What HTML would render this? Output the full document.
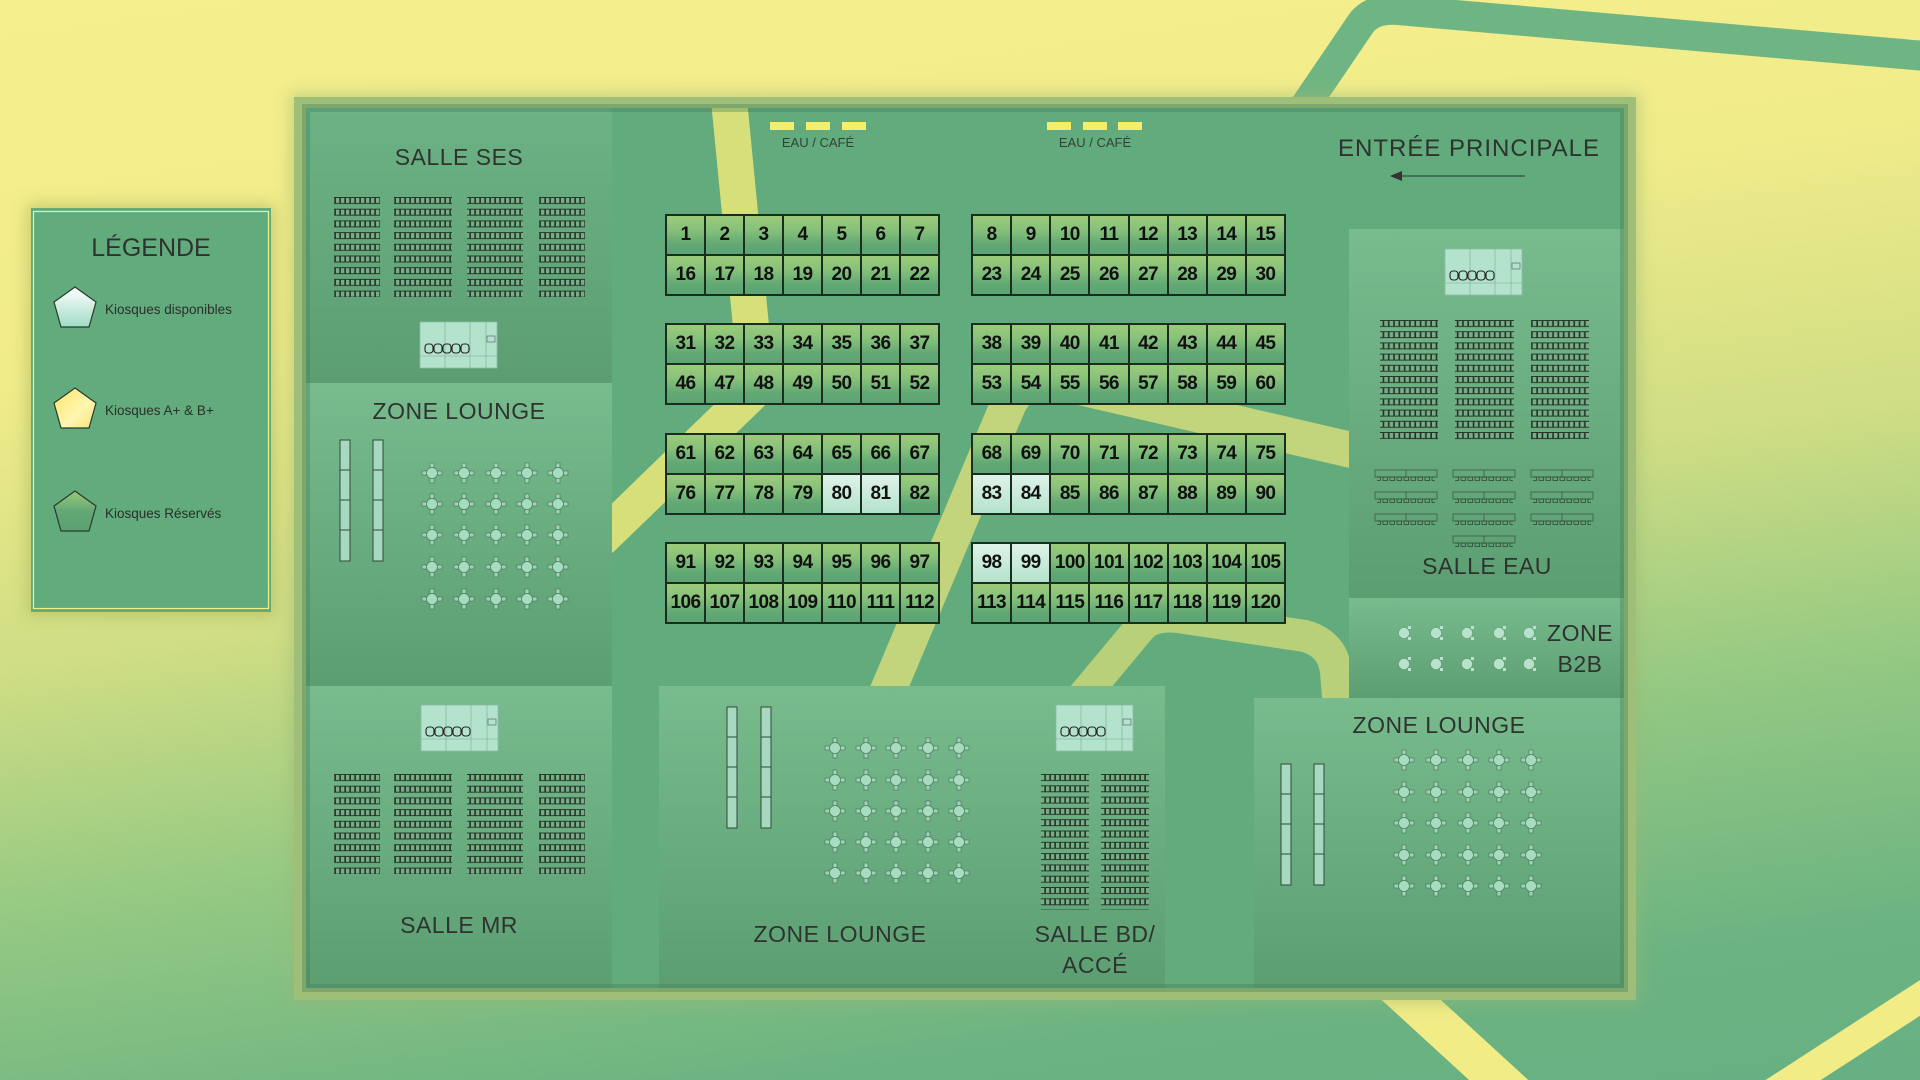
<!DOCTYPE html>
<html><head><meta charset="utf-8">
<style>
html,body{margin:0;padding:0;width:1920px;height:1080px;overflow:hidden}
body{background:linear-gradient(172deg,#f6ef8d 0%,#f1ec8a 28%,#cfdd84 50%,#95c983 68%,#6cb382 88%,#66b083 100%);font-family:"Liberation Sans",sans-serif;position:relative}
.blk{position:absolute;display:grid;border:1.5px solid #1b2d1e;box-sizing:border-box}
.blk div{border:1px solid #1b2d1e;background:linear-gradient(#9ccb7b 0%,#88c27a 35%,#61a874 75%,#5ca473 100%);display:flex;align-items:center;justify-content:center;font-weight:bold;font-size:19px;color:#111;height:38px;letter-spacing:-0.6px}
.blk div.m{background:linear-gradient(#dff3e8,#b3e3cd)}
</style></head><body>
<svg width="1920" height="1080" style="position:absolute;left:0;top:0">
<defs>
<clipPath id="cc"><rect x="612" y="108" width="737" height="880"/></clipPath>
<linearGradient id="gSes" x1="0" y1="0" x2="0" y2="1"><stop offset="0" stop-color="#6cb285"/><stop offset="1" stop-color="#5c9e72"/></linearGradient>
<linearGradient id="gL" x1="0" y1="0" x2="0" y2="1"><stop offset="0" stop-color="#78bb8d"/><stop offset="1" stop-color="#5b9e72"/></linearGradient>
<linearGradient id="gP1" x1="0" y1="0" x2="0" y2="1"><stop offset="0" stop-color="#ffffff"/><stop offset="1" stop-color="#9fdcc6"/></linearGradient>
<linearGradient id="gP2" x1="0" y1="0" x2="1" y2="1"><stop offset="0" stop-color="#ffe46a"/><stop offset=".6" stop-color="#fff6b0"/><stop offset="1" stop-color="#f4e27a"/></linearGradient>
<linearGradient id="gP3" x1="0" y1="0" x2="0" y2="1"><stop offset="0" stop-color="#9bc877"/><stop offset=".5" stop-color="#63a875"/><stop offset="1" stop-color="#5aa172"/></linearGradient>
<filter id="sh" x="-20%" y="-20%" width="140%" height="140%"><feGaussianBlur stdDeviation="8"/></filter>
<pattern id="s1" x="0" y="197" width="5" height="11.7" patternUnits="userSpaceOnUse"><rect x=".5" y=".5" width="4.3" height="6" fill="#78ad88" stroke="#1e2f22" stroke-width=".9"/></pattern>
<pattern id="s2" x="0" y="774" width="5" height="11.7" patternUnits="userSpaceOnUse"><rect x=".5" y=".5" width="4.3" height="6" fill="#78ad88" stroke="#1e2f22" stroke-width=".9"/></pattern>
<pattern id="s3" x="0" y="320" width="5.3" height="11.2" patternUnits="userSpaceOnUse"><rect x=".5" y=".5" width="4.6" height="6" fill="#78ad88" stroke="#1e2f22" stroke-width=".9"/></pattern>
<pattern id="s4" x="0" y="774" width="5" height="11.3" patternUnits="userSpaceOnUse"><rect x=".5" y=".5" width="4.3" height="6" fill="#78ad88" stroke="#1e2f22" stroke-width=".9"/></pattern>
<pattern id="ch" x="0" y="0" width="7" height="6" patternUnits="userSpaceOnUse"><rect x="1" y="1" width="4.5" height="3.5" fill="none" stroke="#2f4a36" stroke-width=".8"/></pattern>
<g id="tb"><rect x="-2" y="-10" width="4" height="5" fill="#9fd4b8" stroke="#4c7a5c" stroke-width=".7"/><rect x="-2" y="5" width="4" height="5" fill="#9fd4b8" stroke="#4c7a5c" stroke-width=".7"/><rect x="-10" y="-2" width="5" height="4" fill="#9fd4b8" stroke="#4c7a5c" stroke-width=".7"/><rect x="5" y="-2" width="5" height="4" fill="#9fd4b8" stroke="#4c7a5c" stroke-width=".7"/><circle r="5.5" fill="#a6dcc0" stroke="#4c7a5c" stroke-width=".7"/></g>
<g id="b2"><circle r="5.5" fill="#b7e2cb" stroke="#6b9b7b" stroke-width=".6"/><rect x="4" y="-7" width="3" height="3" fill="#b7e2cb"/><rect x="4" y="4" width="3" height="3" fill="#b7e2cb"/></g>
<g id="st"><rect x="0" y="0" width="77" height="46" fill="#b3e3cc" stroke="#8bbfa5" stroke-width=".8"/><line x1="25" y1="0" x2="25" y2="46" stroke="#7aa890" stroke-width=".6"/><line x1="50" y1="0" x2="50" y2="46" stroke="#7aa890" stroke-width=".6"/><line x1="0" y1="34" x2="77" y2="34" stroke="#7aa890" stroke-width=".6"/><line x1="66" y1="0" x2="66" y2="46" stroke="#7aa890" stroke-width=".6"/><rect x="67" y="14" width="8" height="6" fill="none" stroke="#556" stroke-width=".6"/>
<g fill="none" stroke="#222" stroke-width="1.1"><rect x="5" y="22" width="8" height="9" rx="3"/><rect x="14" y="22" width="8" height="9" rx="3"/><rect x="23" y="22" width="8" height="9" rx="3"/><rect x="32" y="22" width="8" height="9" rx="3"/><rect x="41" y="22" width="8" height="9" rx="3"/></g></g>
<g id="bar"><rect x="0" y="0" width="10" height="121" fill="#a6d9bf" stroke="#2f4c36" stroke-width="1"/><line x1="0" y1="30" x2="10" y2="30" stroke="#2f4c36"/><line x1="0" y1="60" x2="10" y2="60" stroke="#2f4c36"/><line x1="0" y1="90" x2="10" y2="90" stroke="#2f4c36"/></g>
<g id="ct"><rect x="0" y="0" width="62" height="7" fill="none" stroke="#3d5a44" stroke-width=".8"/><line x1="31" y1="0" x2="31" y2="7" stroke="#3d5a44" stroke-width=".8"/><rect x="2" y="6" width="58" height="6" fill="url(#ch)"/></g>
</defs>
<!-- background stripes -->
<path d="M1292,125 L1362,22 Q1374,8 1398,10 L1925,56" fill="none" stroke="#6fb583" stroke-width="30"/>
<path d="M1395,985 L1515,1095" fill="none" stroke="#f2ec86" stroke-width="40"/>
<path d="M1940,985 L1770,1095" fill="none" stroke="#f2ec86" stroke-width="30"/>
<!-- legend -->
<rect x="27" y="204" width="248" height="412" fill="#a8b860" opacity=".6" filter="url(#sh)"/>
<rect x="31" y="208" width="240" height="404" fill="#62ab7c"/>
<rect x="33.5" y="211.5" width="235" height="397" fill="none" stroke="#eef28a" stroke-width="1.2"/>
<text x="151" y="256" font-size="25" text-anchor="middle" fill="#2e3330">LÉGENDE</text>
<g stroke="#2a3a2e" stroke-width="1.2">
<polygon points="75,287 96,302 89,327 61,327 54,302" fill="url(#gP1)"/>
<polygon points="75,388 96,403 89,428 61,428 54,403" fill="url(#gP2)"/>
<polygon points="75,491 96,506 89,531 61,531 54,506" fill="url(#gP3)"/>
</g>
<g font-size="13.5" fill="#2a2f2c"><text x="105" y="314">Kiosques disponibles</text><text x="105" y="415">Kiosques A+ &amp; B+</text><text x="105" y="518">Kiosques Réservés</text></g>
<!-- frame -->
<rect x="290" y="93" width="1350" height="911" fill="#9ab873" opacity=".5" filter="url(#sh)"/>
<rect x="294" y="97" width="1342" height="903" fill="#9fbf78"/>
<rect x="306" y="108" width="1318" height="880" fill="#62ab7c"/>
<!-- roads -->
<g clip-path="url(#cc)" fill="none" stroke="#d6df7a" stroke-linejoin="round">
<path d="M729,100 L757,388 L600,540" stroke-width="36"/>
<path d="M800,900 L1008,405 Q1022,375 1058,382 L1360,452" stroke-width="36" stroke="#c2d47c"/>
<path d="M1080,700 L1140,628 Q1152,614 1178,617 L1305,636 Q1333,644 1336,672 L1340,720" stroke-width="32" stroke="#b9d07b"/>
</g>
<!-- left column -->
<rect x="306" y="108" width="306" height="275" fill="url(#gSes)"/>
<rect x="306" y="383" width="306" height="303" fill="url(#gL)"/>
<rect x="306" y="686" width="306" height="302" fill="url(#gL)"/>
<!-- right column -->
<rect x="1349" y="229" width="275" height="369" fill="url(#gL)"/>
<rect x="1349" y="598" width="275" height="100" fill="url(#gL)"/>
<rect x="1254" y="698" width="370" height="290" fill="url(#gL)"/>
<!-- bottom center -->
<rect x="659" y="686" width="365" height="302" fill="url(#gL)"/>
<rect x="1024" y="686" width="141" height="302" fill="url(#gL)"/>
<rect x="306" y="108" width="1318" height="880" fill="none" stroke="#3f7a55" stroke-opacity=".35" stroke-width="8"/>
<!-- titles -->
<g font-size="23" fill="#2e3330" text-anchor="middle" letter-spacing=".5">
<text x="459" y="165">SALLE SES</text>
<text x="459" y="419">ZONE LOUNGE</text>
<text x="459" y="933">SALLE MR</text>
<text x="840" y="942">ZONE LOUNGE</text>
<text x="1095" y="942">SALLE BD/</text>
<text x="1095" y="973">ACCÉ</text>
<text x="1439" y="733">ZONE LOUNGE</text>
<text x="1487" y="574">SALLE EAU</text>
<text x="1580" y="641">ZONE</text>
<text x="1580" y="672">B2B</text>
<text x="1469" y="156" font-size="24" letter-spacing="1">ENTRÉE PRINCIPALE</text>
</g>
<line x1="1398" y1="176" x2="1525" y2="176" stroke="#333" stroke-width="1"/>
<polygon points="1390,176 1402,171 1402,181" fill="#333"/>
<!-- eau cafe -->
<g fill="#f7ec6c"><rect x="770" y="122" width="24" height="8"/><rect x="806" y="122" width="24" height="8"/><rect x="842" y="122" width="24" height="8"/><rect x="1047" y="122" width="24" height="8"/><rect x="1083" y="122" width="24" height="8"/><rect x="1118" y="122" width="24" height="8"/></g>
<g font-size="13" fill="#34413a" text-anchor="middle"><text x="818" y="147">EAU / CAFÉ</text><text x="1095" y="147">EAU / CAFÉ</text></g>
<!-- seats -->
<rect x="334" y="197" width="46" height="100" fill="url(#s1)"/><rect x="394" y="197" width="58" height="100" fill="url(#s1)"/><rect x="467" y="197" width="56" height="100" fill="url(#s1)"/><rect x="539" y="197" width="46" height="100" fill="url(#s1)"/>
<rect x="334" y="774" width="46" height="100" fill="url(#s2)"/><rect x="394" y="774" width="58" height="100" fill="url(#s2)"/><rect x="467" y="774" width="56" height="100" fill="url(#s2)"/><rect x="539" y="774" width="46" height="100" fill="url(#s2)"/>
<rect x="1380" y="320" width="58" height="119" fill="url(#s3)"/><rect x="1406" y="432" width="32" height="8" fill="url(#s3)"/>
<rect x="1455" y="320" width="59" height="120" fill="url(#s3)"/>
<rect x="1531" y="320" width="58" height="119" fill="url(#s3)"/><rect x="1531" y="432" width="32" height="8" fill="url(#s3)"/>
<rect x="1041" y="774" width="48" height="136" fill="url(#s4)"/><rect x="1101" y="774" width="48" height="136" fill="url(#s4)"/>
<!-- classroom tables -->
<use href="#ct" x="1375" y="470"/><use href="#ct" x="1375" y="492"/><use href="#ct" x="1375" y="514"/>
<use href="#ct" x="1453" y="470"/><use href="#ct" x="1453" y="492"/><use href="#ct" x="1453" y="514"/><use href="#ct" x="1453" y="536"/>
<use href="#ct" x="1531" y="470"/><use href="#ct" x="1531" y="492"/><use href="#ct" x="1531" y="514"/>
<!-- stages -->
<use href="#st" x="420" y="322"/><use href="#st" x="421" y="705"/><use href="#st" x="1056" y="705"/><use href="#st" x="1445" y="249"/>
<!-- bars -->
<use href="#bar" x="340" y="440"/><use href="#bar" x="373" y="440"/>
<use href="#bar" x="727" y="707"/><use href="#bar" x="761" y="707"/>
<use href="#bar" x="1281" y="764"/><use href="#bar" x="1314" y="764"/>
<!-- lounge tables left -->
<g>
<use href="#tb" x="432" y="473"/><use href="#tb" x="464" y="473"/><use href="#tb" x="496" y="473"/><use href="#tb" x="527" y="473"/><use href="#tb" x="558" y="473"/>
<use href="#tb" x="432" y="504"/><use href="#tb" x="464" y="504"/><use href="#tb" x="496" y="504"/><use href="#tb" x="527" y="504"/><use href="#tb" x="558" y="504"/>
<use href="#tb" x="432" y="535"/><use href="#tb" x="464" y="535"/><use href="#tb" x="496" y="535"/><use href="#tb" x="527" y="535"/><use href="#tb" x="558" y="535"/>
<use href="#tb" x="432" y="567"/><use href="#tb" x="464" y="567"/><use href="#tb" x="496" y="567"/><use href="#tb" x="527" y="567"/><use href="#tb" x="558" y="567"/>
<use href="#tb" x="432" y="599"/><use href="#tb" x="464" y="599"/><use href="#tb" x="496" y="599"/><use href="#tb" x="527" y="599"/><use href="#tb" x="558" y="599"/>
</g>
<g>
<use href="#tb" x="835" y="748"/><use href="#tb" x="866" y="748"/><use href="#tb" x="896" y="748"/><use href="#tb" x="928" y="748"/><use href="#tb" x="959" y="748"/>
<use href="#tb" x="835" y="780"/><use href="#tb" x="866" y="780"/><use href="#tb" x="896" y="780"/><use href="#tb" x="928" y="780"/><use href="#tb" x="959" y="780"/>
<use href="#tb" x="835" y="811"/><use href="#tb" x="866" y="811"/><use href="#tb" x="896" y="811"/><use href="#tb" x="928" y="811"/><use href="#tb" x="959" y="811"/>
<use href="#tb" x="835" y="842"/><use href="#tb" x="866" y="842"/><use href="#tb" x="896" y="842"/><use href="#tb" x="928" y="842"/><use href="#tb" x="959" y="842"/>
<use href="#tb" x="835" y="873"/><use href="#tb" x="866" y="873"/><use href="#tb" x="896" y="873"/><use href="#tb" x="928" y="873"/><use href="#tb" x="959" y="873"/>
</g>
<g>
<use href="#tb" x="1404" y="760"/><use href="#tb" x="1436" y="760"/><use href="#tb" x="1468" y="760"/><use href="#tb" x="1499" y="760"/><use href="#tb" x="1531" y="760"/>
<use href="#tb" x="1404" y="792"/><use href="#tb" x="1436" y="792"/><use href="#tb" x="1468" y="792"/><use href="#tb" x="1499" y="792"/><use href="#tb" x="1531" y="792"/>
<use href="#tb" x="1404" y="823"/><use href="#tb" x="1436" y="823"/><use href="#tb" x="1468" y="823"/><use href="#tb" x="1499" y="823"/><use href="#tb" x="1531" y="823"/>
<use href="#tb" x="1404" y="855"/><use href="#tb" x="1436" y="855"/><use href="#tb" x="1468" y="855"/><use href="#tb" x="1499" y="855"/><use href="#tb" x="1531" y="855"/>
<use href="#tb" x="1404" y="886"/><use href="#tb" x="1436" y="886"/><use href="#tb" x="1468" y="886"/><use href="#tb" x="1499" y="886"/><use href="#tb" x="1531" y="886"/>
</g>
<g>
<use href="#b2" x="1404" y="633"/><use href="#b2" x="1436" y="633"/><use href="#b2" x="1467" y="633"/><use href="#b2" x="1499" y="633"/><use href="#b2" x="1529" y="633"/>
<use href="#b2" x="1404" y="664"/><use href="#b2" x="1436" y="664"/><use href="#b2" x="1467" y="664"/><use href="#b2" x="1499" y="664"/><use href="#b2" x="1529" y="664"/>
</g>
</svg>

<div class="blk" style="left:665px;top:214px;width:275px;grid-template-columns:repeat(7,1fr)">
<div>1</div><div>2</div><div>3</div><div>4</div><div>5</div><div>6</div><div>7</div>
<div>16</div><div>17</div><div>18</div><div>19</div><div>20</div><div>21</div><div>22</div></div>
<div class="blk" style="left:971px;top:214px;width:315px;grid-template-columns:repeat(8,1fr)">
<div>8</div><div>9</div><div>10</div><div>11</div><div>12</div><div>13</div><div>14</div><div>15</div>
<div>23</div><div>24</div><div>25</div><div>26</div><div>27</div><div>28</div><div>29</div><div>30</div></div>

<div class="blk" style="left:665px;top:323px;width:275px;grid-template-columns:repeat(7,1fr)">
<div>31</div><div>32</div><div>33</div><div>34</div><div>35</div><div>36</div><div>37</div>
<div>46</div><div>47</div><div>48</div><div>49</div><div>50</div><div>51</div><div>52</div></div>
<div class="blk" style="left:971px;top:323px;width:315px;grid-template-columns:repeat(8,1fr)">
<div>38</div><div>39</div><div>40</div><div>41</div><div>42</div><div>43</div><div>44</div><div>45</div>
<div>53</div><div>54</div><div>55</div><div>56</div><div>57</div><div>58</div><div>59</div><div>60</div></div>

<div class="blk" style="left:665px;top:433px;width:275px;grid-template-columns:repeat(7,1fr)">
<div>61</div><div>62</div><div>63</div><div>64</div><div>65</div><div>66</div><div>67</div>
<div>76</div><div>77</div><div>78</div><div>79</div><div class="m">80</div><div class="m">81</div><div>82</div></div>
<div class="blk" style="left:971px;top:433px;width:315px;grid-template-columns:repeat(8,1fr)">
<div>68</div><div>69</div><div>70</div><div>71</div><div>72</div><div>73</div><div>74</div><div>75</div>
<div class="m">83</div><div class="m">84</div><div>85</div><div>86</div><div>87</div><div>88</div><div>89</div><div>90</div></div>

<div class="blk" style="left:665px;top:542px;width:275px;grid-template-columns:repeat(7,1fr)">
<div>91</div><div>92</div><div>93</div><div>94</div><div>95</div><div>96</div><div>97</div>
<div>106</div><div>107</div><div>108</div><div>109</div><div>110</div><div>111</div><div>112</div></div>
<div class="blk" style="left:971px;top:542px;width:315px;grid-template-columns:repeat(8,1fr)">
<div class="m">98</div><div class="m">99</div><div>100</div><div>101</div><div>102</div><div>103</div><div>104</div><div>105</div>
<div>113</div><div>114</div><div>115</div><div>116</div><div>117</div><div>118</div><div>119</div><div>120</div></div>
</body></html>
